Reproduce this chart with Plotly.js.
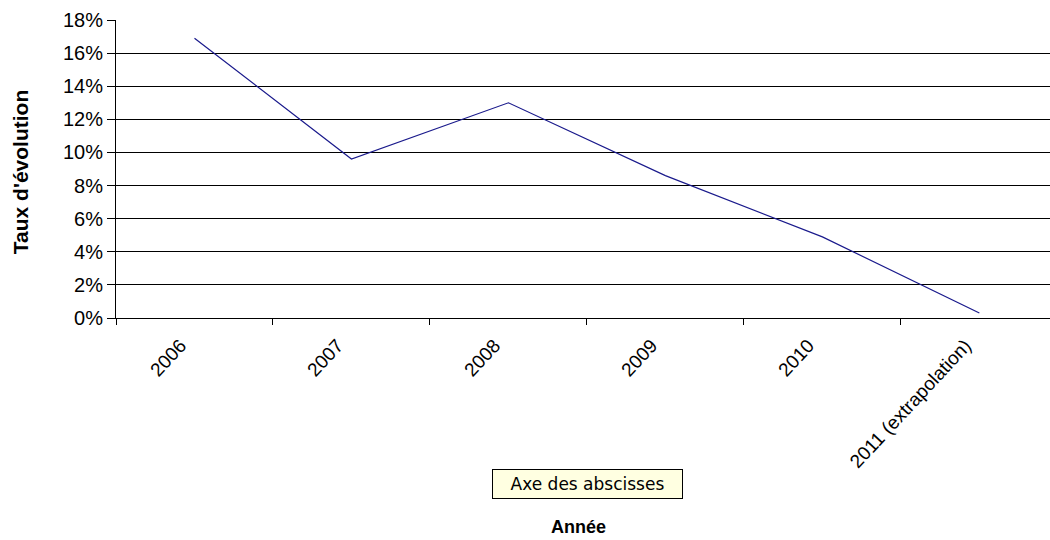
<!DOCTYPE html>
<html>
<head>
<meta charset="utf-8">
<script src="https://cdn.plot.ly/plotly-3.0.1.min.js"></script>
<style>
  html, body { margin: 0; padding: 0; background: #ffffff; }
  #chart { width: 1050px; height: 540px; }
</style>
</head>
<body>
<div id="chart"></div>
<script>
// Data
const years = ['2006', '2007', '2008', '2009', '2010', '2011 (extrapolation)'];
const tauxEvolution = [0.169, 0.096, 0.130, 0.086, 0.049, 0.003];
const yTickValues = [0, 0.02, 0.04, 0.06, 0.08, 0.10, 0.12, 0.14, 0.16, 0.18];
const xTitle = 'Année';
const yTitle = "Taux d'évolution";
const tooltipText = 'Axe des abscisses';

const font = 'Liberation Sans, Arial, sans-serif';

const trace = {
  type: 'scatter',
  mode: 'lines',
  x: years,
  y: tauxEvolution,
  line: { color: '#1a1a8c', width: 1.2 },
  hoverinfo: 'x+y'
};

const layout = {
  width: 1050,
  height: 540,
  margin: { l: 116, r: 0, t: 20, b: 222 },
  paper_bgcolor: '#ffffff',
  plot_bgcolor: '#ffffff',
  showlegend: false,
  font: { family: font, color: '#000000', size: 18 },
  xaxis: {
    type: 'category',
    range: [-0.5, 5.45],
    tickson: 'boundaries',
    ticks: 'outside',
    ticklen: 6,
    tickcolor: '#000000',
    tickangle: -47,
    ticklabelstandoff: 8,
    ticklabelshift: -14,
    showgrid: false,
    showline: true,
    linecolor: '#000000',
    linewidth: 1,
    zeroline: false,
    tickfont: { family: font, size: 19, color: '#000000' },
    automargin: false
  },
  yaxis: {
    range: [0, 0.18],
    tickvals: yTickValues,
    tickformat: '.0%',
    ticksuffix: '\u00a0',
    ticks: 'outside',
    ticklen: 8,
    tickcolor: '#000000',
    showgrid: true,
    gridcolor: '#000000',
    gridwidth: 1,
    showline: true,
    linecolor: '#000000',
    linewidth: 1,
    zeroline: false,
    tickfont: { family: font, size: 20, color: '#000000' },
    automargin: false
  },
  annotations: [
    {
      xref: 'paper', yref: 'paper',
      x: 0.505, y: -0.557,
      xanchor: 'center', yanchor: 'middle',
      text: tooltipText,
      showarrow: false,
      font: { family: 'DejaVu Sans, Liberation Sans, sans-serif', size: 17, color: '#000000' },
      bgcolor: '#ffffe1',
      bordercolor: '#000000',
      borderwidth: 1,
      borderpad: 2,
      width: 185,
      height: 24
    },
    {
      xref: 'paper', yref: 'paper',
      x: 0.495, y: -0.703,
      xanchor: 'center', yanchor: 'middle',
      text: '<b>' + xTitle + '</b>',
      showarrow: false,
      font: { family: font, size: 18, color: '#000000' }
    },
    {
      xref: 'paper', yref: 'paper',
      x: -0.1015, y: 0.49,
      xanchor: 'center', yanchor: 'middle',
      textangle: -90,
      text: '<b>' + yTitle + '</b>',
      showarrow: false,
      font: { family: font, size: 21, color: '#000000' }
    }
  ]
};

Plotly.newPlot('chart', [trace], layout, { displayModeBar: false, staticPlot: true });
</script>
</body>
</html>
